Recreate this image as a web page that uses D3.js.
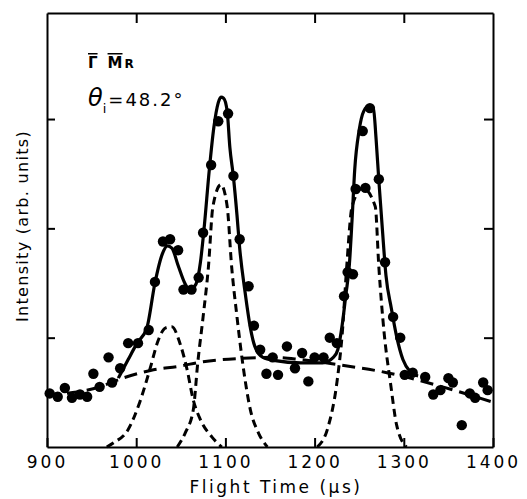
<!DOCTYPE html>
<html>
<head>
<meta charset="utf-8">
<script src="https://cdn.jsdelivr.net/npm/d3@7"></script>
<style>
  body { margin: 0; background: #fff; }
  text { font-family: "DejaVu Sans", sans-serif; fill: #000; }
  .axis path, .axis line { stroke: #000; stroke-width: 2; }
  .axis text { font-size: 17px; letter-spacing: 3px; }
</style>
</head>
<body>
<svg width="527" height="499"></svg>
<script>
// measured points (flight time in µs, intensity in arb. units)
let pointTime = [903, 912, 920, 928, 937, 945, 952, 959, 969, 973,
  982, 991, 1002, 1014, 1021, 1030, 1038, 1047, 1053, 1062,
  1070, 1075, 1084, 1092, 1103, 1109, 1116, 1126, 1132, 1139,
  1146, 1153, 1159, 1169, 1178, 1186, 1193, 1200, 1210, 1217,
  1225, 1233, 1237, 1243, 1246, 1257, 1254, 1262, 1272, 1279,
  1288, 1296, 1301, 1310, 1324, 1333, 1341, 1350, 1355, 1365,
  1374, 1380, 1389, 1394];
let pointIntensity = [0.49, 0.46, 0.54, 0.45, 0.48, 0.46, 0.67, 0.55, 0.82, 0.59,
  0.72, 0.95, 0.95, 1.07, 1.51, 1.88, 1.90, 1.80, 1.44, 1.44,
  1.55, 1.96, 2.58, 2.98, 3.05, 2.48, 1.90, 1.47, 1.11, 0.89,
  0.67, 0.82, 0.66, 0.92, 0.72, 0.86, 0.60, 0.82, 0.82, 1.00,
  0.95, 1.38, 1.60, 1.58, 2.36, 2.37, 2.89, 3.10, 2.45, 1.69,
  1.19, 1.00, 0.66, 0.68, 0.64, 0.48, 0.52, 0.63, 0.59, 0.20,
  0.49, 0.45, 0.59, 0.52];

// total fit (solid)
let fitTime = [980, 991, 1001, 1012, 1021, 1029, 1035, 1040, 1047, 1055,
  1060, 1067, 1072, 1076, 1082, 1087, 1092, 1095, 1098, 1102,
  1105, 1109, 1113, 1116, 1122, 1128, 1133, 1142, 1156, 1184,
  1209, 1221, 1226, 1231, 1235, 1239, 1242, 1245, 1250, 1255,
  1261, 1266, 1269, 1272, 1276, 1280, 1286, 1292, 1299, 1307, 1316];
let fitIntensity = [0.63, 0.80, 0.95, 1.09, 1.50, 1.76, 1.84, 1.82, 1.66, 1.49,
  1.44, 1.49, 1.69, 1.99, 2.54, 2.92, 3.15, 3.20, 3.19, 3.07,
  2.74, 2.47, 2.12, 1.82, 1.42, 1.09, 0.92, 0.82, 0.79, 0.77,
  0.77, 0.82, 0.89, 1.12, 1.39, 1.67, 2.08, 2.54, 2.90, 3.07,
  3.12, 3.09, 2.81, 2.44, 1.99, 1.57, 1.27, 1.01, 0.80, 0.69, 0.65];

// broad background (long dashes)
let backTime = [900, 931, 959, 985, 1016, 1049, 1075, 1116, 1153, 1184, 1229, 1281, 1326, 1360, 1400];
let backIntensity = [0.48, 0.50, 0.55, 0.63, 0.70, 0.74, 0.78, 0.81, 0.82, 0.80, 0.75, 0.68, 0.59, 0.51, 0.41];

// three peaks (short dashes)
let peak1Time = [967, 975, 991, 1004, 1016, 1024, 1033, 1040, 1049, 1057, 1064, 1072, 1085, 1096];
let peak1Intensity = [0, 0.04, 0.16, 0.41, 0.73, 0.96, 1.09, 1.10, 0.95, 0.71, 0.43, 0.25, 0.09, 0];
let peak2Time = [1046, 1055, 1064, 1069, 1075, 1081, 1086, 1095, 1102, 1107, 1113, 1120, 1128, 1137, 1147];
let peak2Intensity = [0, 0.13, 0.34, 0.77, 1.19, 1.65, 2.20, 2.40, 2.20, 1.65, 1.19, 0.73, 0.34, 0.13, 0];
let peak3Time = [1203, 1215, 1225, 1231, 1236, 1242, 1254, 1268, 1272, 1278, 1285, 1292, 1303];
let peak3Intensity = [0, 0.18, 0.59, 1.04, 1.65, 2.20, 2.37, 2.20, 1.65, 1.04, 0.59, 0.20, 0];

let timeTicks = [900, 1000, 1100, 1200, 1300, 1400];
let intensityTicks = [1, 2, 3];

let svg = d3.select("svg");

let x = d3.scaleLinear().domain([900, 1400]).range([47, 493]);
let y = d3.scaleLinear().domain([0, 3.97]).range([447, 13]);

// frame + inward ticks
svg.append("g")
    .attr("class", "axis")
    .attr("transform", "translate(0," + y(0) + ")")
    .call(d3.axisBottom(x).tickValues(timeTicks).tickSize(-9).tickSizeOuter(0).tickPadding(9)
      .tickFormat(d3.format("d")));

svg.append("g")
    .attr("class", "axis")
    .attr("transform", "translate(0," + y(3.97) + ")")
    .call(d3.axisTop(x).tickValues(timeTicks.slice(1, 5)).tickSize(-10).tickSizeOuter(0).tickFormat(""));

svg.append("g")
    .attr("class", "axis")
    .attr("transform", "translate(" + x(900) + ",0)")
    .call(d3.axisLeft(y).tickValues(intensityTicks).tickSize(-8).tickSizeOuter(0).tickFormat(""));

svg.append("g")
    .attr("class", "axis")
    .attr("transform", "translate(" + x(1400) + ",0)")
    .call(d3.axisRight(y).tickValues(intensityTicks).tickSize(-9).tickSizeOuter(0).tickFormat(""));

svg.selectAll(".axis .domain").attr("stroke-width", 2.2);

let line = d3.line()
    .x(function(d) { return x(d[0]); })
    .y(function(d) { return y(d[1]); })
    .curve(d3.curveMonotoneX);

// background
svg.append("path")
    .datum(d3.zip(backTime, backIntensity))
    .attr("d", line)
    .attr("fill", "none")
    .attr("stroke", "#000")
    .attr("stroke-width", 3)
    .attr("stroke-dasharray", "13,7");

// peaks
[[peak1Time, peak1Intensity], [peak2Time, peak2Intensity], [peak3Time, peak3Intensity]].forEach(function(p) {
  svg.append("path")
      .datum(d3.zip(p[0], p[1]))
      .attr("d", line)
      .attr("fill", "none")
      .attr("stroke", "#000")
      .attr("stroke-width", 3)
      .attr("stroke-dasharray", "8,5");
});

// total fit
svg.append("path")
    .datum(d3.zip(fitTime, fitIntensity))
    .attr("d", line)
    .attr("fill", "none")
    .attr("stroke", "#000")
    .attr("stroke-width", 3.2)
    .attr("stroke-linejoin", "round");

// data points
svg.append("g")
    .selectAll("circle")
    .data(d3.zip(pointTime, pointIntensity))
    .enter().append("circle")
    .attr("cx", function(d) { return x(d[0]); })
    .attr("cy", function(d) { return y(d[1]); })
    .attr("r", 5.2)
    .attr("fill", "#000");

// axis titles
svg.append("text")
    .attr("x", 276)
    .attr("y", 493)
    .attr("text-anchor", "middle")
    .style("font-size", "17px")
    .style("letter-spacing", "2.5px")
    .text("Flight Time (\u00b5s)");

svg.append("text")
    .attr("transform", "translate(28,226) rotate(-90)")
    .attr("text-anchor", "middle")
    .style("font-size", "16px")
    .style("letter-spacing", "1.3px")
    .text("Intensity (arb. units)");

// labels inside plot
let lab = svg.append("text")
    .attr("x", 88)
    .attr("y", 68)
    .style("font-weight", "bold");
lab.append("tspan").style("font-size", "15px").style("text-decoration", "overline").text("\u0393");
lab.append("tspan").attr("dx", 10).style("font-size", "15px").style("text-decoration", "overline").text("M");
lab.append("tspan").attr("dx", 2).style("font-size", "12px").text("R");

let ang = svg.append("text")
    .attr("x", 88)
    .attr("y", 106);
ang.append("tspan").style("font-size", "24px").style("font-style", "italic").text("\u03b8");
ang.append("tspan").attr("dy", 7).style("font-size", "13px").text("i");
ang.append("tspan").attr("dy", -7).attr("dx", 2).style("font-size", "18px").style("letter-spacing", "2px").text("=48.2\u00b0");
</script>
</body>
</html>
